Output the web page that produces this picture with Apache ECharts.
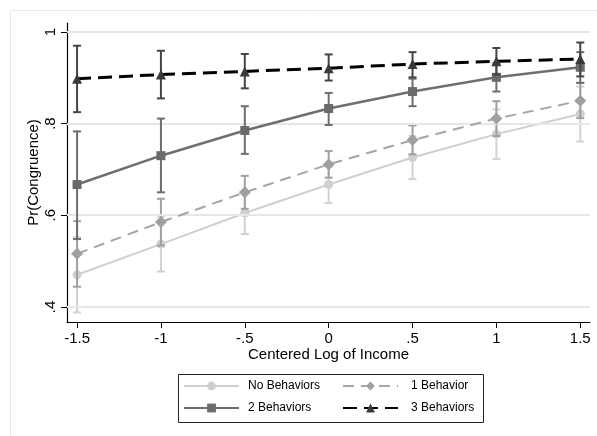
<!DOCTYPE html>
<html>
<head>
<meta charset="utf-8">
<script src="https://cdn.jsdelivr.net/npm/echarts@6/dist/echarts.min.js"></script>
<style>html,body{margin:0;padding:0;background:#fff}#c{width:597px;height:436px}</style>
</head>
<body>
<div id="c"></div>
<script>
const xVals = [-1.5, -1, -0.5, 0, 0.5, 1, 1.5];
const xTicks = [-1.5, -1, -0.5, 0, 0.5, 1, 1.5];
const yTicks = [0.4, 0.6, 0.8, 1];
const seriesNames = ['No Behaviors', '1 Behavior', '2 Behaviors', '3 Behaviors'];

const noBeh = [0.470, 0.537, 0.605, 0.667, 0.726, 0.777, 0.821];
const noLo  = [0.388, 0.477, 0.559, 0.627, 0.679, 0.723, 0.761];
const noHi  = [0.552, 0.597, 0.651, 0.707, 0.773, 0.831, 0.881];

const oneBeh = [0.516, 0.585, 0.650, 0.711, 0.764, 0.811, 0.850];
const oneLo  = [0.444, 0.534, 0.614, 0.682, 0.733, 0.773, 0.812];
const oneHi  = [0.587, 0.636, 0.686, 0.740, 0.796, 0.849, 0.889];

const twoBeh = [0.667, 0.730, 0.785, 0.833, 0.870, 0.901, 0.923];
const twoLo  = [0.548, 0.650, 0.734, 0.797, 0.838, 0.870, 0.889];
const twoHi  = [0.783, 0.811, 0.838, 0.867, 0.898, 0.932, 0.956];

const threeBeh = [0.898, 0.907, 0.914, 0.921, 0.930, 0.936, 0.941];
const threeLo  = [0.825, 0.855, 0.877, 0.894, 0.901, 0.907, 0.903];
const threeHi  = [0.970, 0.959, 0.952, 0.951, 0.956, 0.965, 0.977];

const FONT = 'Liberation Sans, Arial, sans-serif';
const fmt = v => {
  if (Math.abs(v) < 1e-9) return '0';
  const s = String(Math.abs(v)).replace(/^0\./, '.');
  return (v < 0 ? '-' : '') + s;
};

const groups = [
  {name: seriesNames[0], mid: noBeh, lo: noLo, hi: noHi, lineColor: '#cfcfcf', barColor: '#d2d2d2', markColor: '#cfcfcf', width: 2, type: 'solid', symbol: 'circle', size: 9},
  {name: seriesNames[1], mid: oneBeh, lo: oneLo, hi: oneHi, lineColor: '#a6a6a6', barColor: '#a0a0a0', markColor: '#a0a0a0', width: 2, type: [11, 7], symbol: 'diamond', size: 12},
  {name: seriesNames[2], mid: twoBeh, lo: twoLo, hi: twoHi, lineColor: '#6e6e6e', barColor: '#6e6e6e', markColor: '#6a6a6a', width: 2.5, type: 'solid', symbol: 'rect', size: 9},
  {name: seriesNames[3], mid: threeBeh, lo: threeLo, hi: threeHi, lineColor: '#000000', barColor: '#454545', markColor: '#3a3a3a', width: 3, type: [14, 7], symbol: 'triangle', size: 10}
];

const series = [];
groups.forEach((g, gi) => {
  series.push({
    type: 'custom',
    name: 'ci' + gi,
    z: 2 + gi * 2,
    silent: true,
    data: xVals.map((x, i) => [x, g.lo[i], g.hi[i]]),
    renderItem: (params, api) => {
      const p1 = api.coord([api.value(0), api.value(1)]);
      const p2 = api.coord([api.value(0), api.value(2)]);
      const c = 4;
      const st = {stroke: g.barColor, lineWidth: 2, fill: null};
      return {
        type: 'group',
        children: [
          {type: 'line', shape: {x1: p1[0], y1: p1[1], x2: p2[0], y2: p2[1]}, style: st},
          {type: 'line', shape: {x1: p1[0] - c, y1: p1[1], x2: p1[0] + c, y2: p1[1]}, style: st},
          {type: 'line', shape: {x1: p2[0] - c, y1: p2[1], x2: p2[0] + c, y2: p2[1]}, style: st}
        ]
      };
    }
  });
  const s = {
    type: 'line',
    name: g.name,
    z: 3 + gi * 2,
    data: xVals.map((x, i) => [x, g.mid[i]]),
    symbol: g.symbol,
    symbolSize: g.size,
    showAllSymbol: true,
    lineStyle: {color: g.lineColor, width: g.width, type: g.type},
    itemStyle: {color: g.markColor, borderWidth: 0},
    emphasis: {disabled: true},
    animation: false
  };
  if (gi === 0) {
    s.z = 1;
    s.markLine = {
      silent: true,
      symbol: 'none',
      label: {show: false},
      lineStyle: {color: '#e6e6e6', width: 2, type: 'solid'},
      data: yTicks.map(v => ({yAxis: v}))
    };
  }
  series.push(s);
});

const chart = echarts.init(document.getElementById('c'), null, {renderer: 'canvas'});
chart.setOption({
  animation: false,
  backgroundColor: '#ffffff',
  textStyle: {fontFamily: FONT},
  grid: {left: 67, right: 7, top: 23, bottom: 114, containLabel: false},
  xAxis: {
    type: 'value',
    min: -1.56,
    max: 1.558,
    name: 'Centered Log of Income',
    nameLocation: 'middle',
    nameGap: 25,
    nameMoveOverlap: false,
    nameTextStyle: {color: '#000', fontSize: 15, fontFamily: FONT},
    axisLine: {show: true, onZero: false, lineStyle: {color: '#000', width: 1.2}},
    axisTick: {show: true, length: 6, lineStyle: {color: '#000', width: 1}, customValues: xTicks},
    axisLabel: {color: '#000', fontSize: 15, fontFamily: FONT, margin: 9, customValues: xTicks, formatter: fmt},
    splitLine: {show: false}
  },
  yAxis: {
    type: 'value',
    min: 0.367,
    max: 1.0196,
    name: 'Pr(Congruence)',
    nameLocation: 'middle',
    nameGap: 26,
    nameMoveOverlap: false,
    nameTextStyle: {color: '#000', fontSize: 15, fontFamily: FONT},
    axisLine: {show: true, onZero: false, lineStyle: {color: '#000', width: 1.2}},
    axisTick: {show: true, length: 6, lineStyle: {color: '#000', width: 1}, customValues: yTicks},
    axisLabel: {color: '#000', fontSize: 15, fontFamily: FONT, margin: 9, rotate: 90, customValues: yTicks, formatter: fmt},
    splitLine: {show: false}
  },
  legend: [
    {
      data: [seriesNames[0], seriesNames[2]],
      orient: 'vertical',
      left: 183, top: 380,
      itemWidth: 55, itemHeight: 11, itemGap: 10,
      padding: 0,
      selectedMode: false,
      textStyle: {color: '#000', fontSize: 12, fontFamily: FONT, padding: [0, 0, 0, 4]}
    },
    {
      data: [seriesNames[1], seriesNames[3]],
      orient: 'vertical',
      left: 342, top: 380,
      itemWidth: 55, itemHeight: 11, itemGap: 10,
      padding: 0,
      selectedMode: false,
      textStyle: {color: '#000', fontSize: 12, fontFamily: FONT, padding: [0, 0, 0, 8]}
    }
  ],
  graphic: [
    {type: 'rect', left: 8, top: 8, shape: {width: 620, height: 460}, style: {fill: null, stroke: '#e2ecee', lineWidth: 1}, silent: true, z: 0},
    {type: 'rect', left: 176, top: 372, shape: {width: 305, height: 48}, style: {fill: null, stroke: '#222', lineWidth: 1}, silent: true}
  ],
  series: series
});
</script>
</body>
</html>
